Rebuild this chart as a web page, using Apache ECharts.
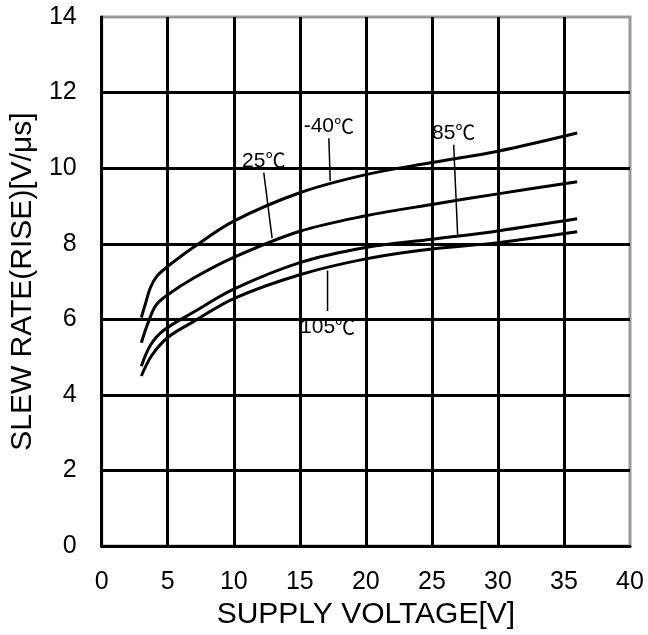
<!DOCTYPE html>
<html>
<head>
<meta charset="utf-8">
<script src="https://cdn.jsdelivr.net/npm/echarts@6/dist/echarts.min.js"></script>
<style>
  html, body { margin: 0; padding: 0; background: #fff; }
  #chart { width: 648px; height: 635px; }
</style>
</head>
<body>
<div id="chart"></div>
<script>
// slew rate curves, [supply voltage, slew rate]
var tempM40 = [[3, 6.05], [3.3, 6.4], [3.7, 6.85], [4.2, 7.15], [5, 7.4], [7, 7.92], [10, 8.6], [15, 9.35], [20, 9.83], [25, 10.15], [30, 10.45], [36, 10.93]];
var temp25 = [[3, 5.38], [3.5, 5.9], [4.1, 6.37], [5, 6.65], [7, 7.1], [10, 7.64], [15, 8.33], [20, 8.74], [25, 9.04], [30, 9.32], [36, 9.64]];
var temp85 = [[3, 4.76], [3.7, 5.32], [4.7, 5.71], [7, 6.2], [10, 6.8], [15, 7.5], [20, 7.9], [25, 8.12], [30, 8.34], [36, 8.66]];
var temp105 = [[3, 4.5], [3.8, 5.05], [5, 5.52], [7, 5.95], [10, 6.55], [15, 7.18], [20, 7.6], [25, 7.86], [30, 8.03], [36, 8.32]];

// curve labels: temperature, leader start, leader end (on the curve)
var labelTemp = ['-40', '25', '85', '105'];
var leaderFrom = [[17.2, 10.79], [12.27, 9.88], [26.65, 10.62], [17.1, 6.22]];
var leaderTo = [[17.3, 9.66], [12.9, 8.15], [26.95, 8.24], [17.1, 7.29]];
var labelSide = ['top', 'top', 'top', 'bottom'];

var fontName = 'Liberation Sans, Arial, sans-serif';
var chart = echarts.init(document.getElementById('chart'));

var series = [tempM40, temp25, temp85, temp105].map(function (d) {
  return {
    type: 'line',
    data: d,
    smooth: 0.35,
    symbol: 'none',
    lineStyle: { color: '#000', width: 3 },
    z: 5
  };
});

labelTemp.forEach(function (t, i) {
  series.push({
    type: 'line',
    data: [
      { value: leaderFrom[i], label: { show: true, position: labelSide[i], distance: labelSide[i] === 'top' ? 1 : 5, formatter: '{n|' + t + '}{u|℃}' } },
      { value: leaderTo[i], label: { show: false } }
    ],
    symbol: 'circle',
    symbolSize: 1,
    showSymbol: true,
    itemStyle: { color: 'rgba(0,0,0,0)' },
    label: {
      rich: {
        n: { color: '#000', fontSize: 21, fontFamily: "'Liberation Sans'" },
        u: { color: '#000', fontSize: 20, fontFamily: "'Noto Sans CJK SC'" }
      }
    },
    lineStyle: { color: '#000', width: 1.5 },
    z: 6
  });
});

chart.setOption({
  animation: false,
  grid: {
    left: 101,
    right: 18,
    top: 17,
    bottom: 88,
    show: true,
    borderColor: '#999',
    borderWidth: 3
  },
  xAxis: {
    type: 'value',
    min: 0,
    max: 40,
    interval: 5,
    name: 'SUPPLY VOLTAGE[V]',
    nameLocation: 'middle',
    nameGap: 50,
    nameTextStyle: { color: '#000', fontSize: 30, fontFamily: fontName },
    axisLine: { show: true, lineStyle: { color: '#000', width: 3 } },
    axisTick: { show: false },
    axisLabel: { color: '#000', fontSize: 25, margin: 24, fontFamily: fontName },
    splitLine: { show: true, showMinLine: false, showMaxLine: false, lineStyle: { color: '#000', width: 3 } }
  },
  yAxis: {
    type: 'value',
    min: 0,
    max: 14,
    interval: 2,
    name: 'SLEW RATE(RISE)[V/μs]',
    nameLocation: 'middle',
    nameGap: 57,
    nameTextStyle: { color: '#000', fontSize: 30, fontFamily: fontName },
    axisLine: { show: true, lineStyle: { color: '#000', width: 3 } },
    axisTick: { show: false },
    axisLabel: { color: '#000', fontSize: 25, margin: 25, fontFamily: fontName },
    splitLine: { show: true, showMinLine: false, showMaxLine: false, lineStyle: { color: '#000', width: 3 } }
  },
  series: series
});
</script>
</body>
</html>
